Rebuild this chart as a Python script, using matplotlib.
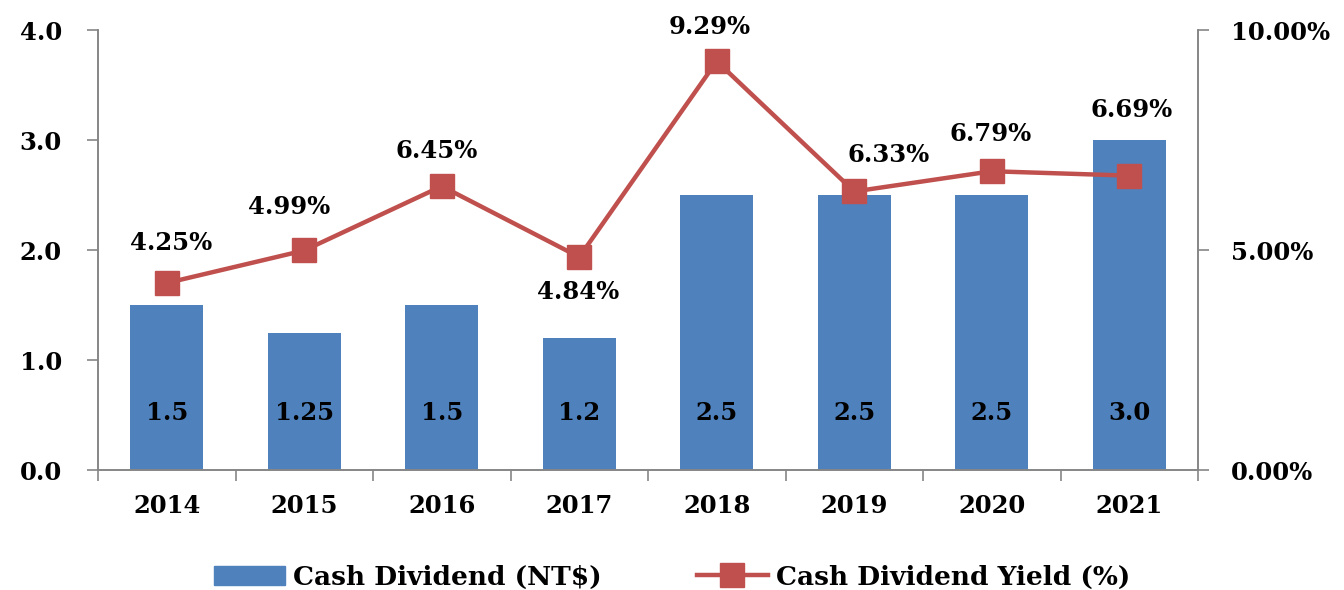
import matplotlib.pyplot as plt
import numpy as np
from matplotlib.ticker import FixedLocator

# chart data
years = ['2014', '2015', '2016', '2017', '2018', '2019', '2020', '2021']
cash_dividend = [1.5, 1.25, 1.5, 1.2, 2.5, 2.5, 2.5, 3.0]
dividend_labels = ['1.5', '1.25', '1.5', '1.2', '2.5', '2.5', '2.5', '3.0']
dividend_yield = [4.25, 4.99, 6.45, 4.84, 9.29, 6.33, 6.79, 6.69]

# label offsets (points) for the yield annotations
yield_offsets = [(3, 29), (-11, 31), (-4, 25), (-1, -25), (-5, 25), (25, 26), (-1, 27), (2, 47)]

plt.rcParams['font.family'] = ['DejaVu Serif']
plt.rcParams['font.weight'] = 'bold'

blue = '#4F81BD'
red = '#C0504D'
gray = '#868686'
fs = 17.5

fig = plt.figure(figsize=(13.44, 5.90), dpi=100)
ax = fig.add_axes([98/1344, 120/590, 1100/1344, 440/590])
ax2 = ax.twinx()

x = np.arange(len(years))
ax.bar(x, cash_dividend, width=0.53, color=blue, zorder=2)
for xi, lab in zip(x, dividend_labels):
    ax.text(xi, 0.52, lab, ha='center', va='center', fontsize=fs, fontweight='bold', color='black')

ax2.plot(x, dividend_yield, color=red, linewidth=3.2, marker='s', markersize=17,
         markerfacecolor=red, markeredgecolor=red, zorder=3)
for xi, yv, off in zip(x, dividend_yield, yield_offsets):
    ax2.annotate(f'{yv:.2f}%', (xi, yv), xytext=off, textcoords='offset points',
                 ha='center', va='center', fontsize=fs, fontweight='bold')

ax.set_xlim(-0.5, len(years) - 0.5)
ax.set_ylim(0, 4.0)
ax2.set_ylim(0, 10.0)
ax.set_yticks([0, 1, 2, 3, 4])
ax.set_yticklabels(['0.0', '1.0', '2.0', '3.0', '4.0'])
ax2.set_yticks([0, 5, 10])
ax2.set_yticklabels(['0.00%', '5.00%', '10.00%'])

ax.set_xticks(x)
ax.set_xticklabels(years)
ax.xaxis.set_minor_locator(FixedLocator(np.arange(-0.5, len(years), 1.0)))
ax.tick_params(axis='x', which='major', length=0, pad=17, labelsize=fs)
ax.tick_params(axis='x', which='minor', length=8, color=gray, width=1.2, direction='out')
ax.tick_params(axis='y', length=8, color=gray, width=1.2, pad=18, labelsize=fs)
ax2.tick_params(axis='y', length=8, color=gray, width=1.2, pad=16, labelsize=fs)

for a in (ax, ax2):
    a.spines['top'].set_visible(False)
    for s in ('left', 'right', 'bottom'):
        a.spines[s].set_color(gray)
        a.spines[s].set_linewidth(1.2)
ax.set_zorder(ax2.get_zorder() - 1)
ax2.patch.set_visible(False)
ax.patch.set_visible(False)

h1 = plt.Rectangle((0, 0), 1, 1, color=blue)
h2 = plt.Line2D([], [], color=red, linewidth=3.2, marker='s', markersize=17)
fig.legend([h1, h2], ['Cash Dividend (NT$)', 'Cash Dividend Yield (%)'],
           loc='center', bbox_to_anchor=(0.5, 0.022), ncol=2, frameon=False,
           handlelength=2.7, columnspacing=3.6, handletextpad=0.3,
           prop={'weight': 'bold', 'size': 19})

fig.savefig('out.png', dpi=100)
